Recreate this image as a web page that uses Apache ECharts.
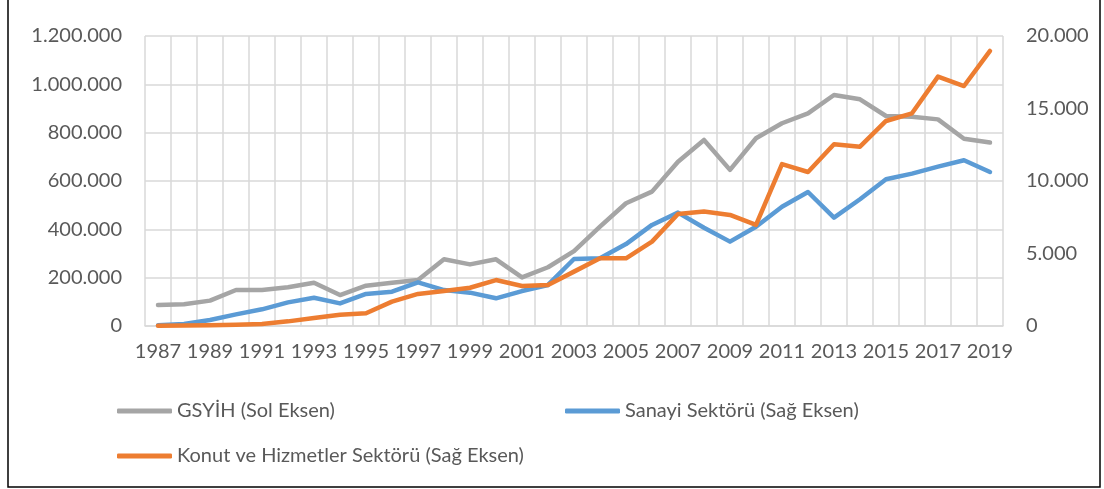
<!DOCTYPE html>
<html>
<head>
<meta charset="utf-8">
<script src="https://cdn.jsdelivr.net/npm/echarts@6/dist/echarts.min.js"></script>
<style>
html,body{margin:0;padding:0;background:#fff;}
#c{width:1104px;height:489px;}
</style>
</head>
<body>
<div id="c"></div>
<script>
const years = ['1987','1988','1989','1990','1991','1992','1993','1994','1995','1996','1997','1998','1999','2000','2001','2002','2003','2004','2005','2006','2007','2008','2009','2010','2011','2012','2013','2014','2015','2016','2017','2018','2019'];
const gsyih = [87000, 90000, 105000, 149000, 149000, 160000, 179000, 128000, 167000, 179000, 190000, 276000, 255000, 276000, 201000, 243000, 310000, 411000, 508000, 556000, 680000, 770000, 646000, 777000, 839000, 880000, 956000, 938000, 869000, 866000, 855000, 775000, 759000];
const sanayi = [50, 140, 410, 800, 1150, 1630, 1950, 1560, 2210, 2370, 3010, 2480, 2300, 1910, 2410, 2830, 4620, 4670, 5650, 6970, 7820, 6780, 5820, 6850, 8230, 9240, 7470, 8740, 10120, 10510, 10990, 11430, 10620];
const konut = [20, 30, 50, 80, 140, 320, 550, 780, 880, 1680, 2210, 2410, 2640, 3170, 2760, 2830, 3750, 4670, 4670, 5820, 7720, 7890, 7660, 6970, 11170, 10620, 12530, 12370, 14140, 14670, 17200, 16550, 18970];
const names = ['GSYİH (Sol Eksen)', 'Sanayi Sektörü (Sağ Eksen)', 'Konut ve Hizmetler Sektörü (Sağ Eksen)'];
const colors = ['#a5a5a5', '#5b9bd5', '#ed7d31'];

const fmt = v => String(v).replace(/\B(?=(\d{3})+(?!\d))/g, '.');
const FONT = 'Lato';
const TXT = '#595959';
const GRID = '#d9d9d9';
const FS = 20;

const chart = echarts.init(document.getElementById('c'), null, {renderer: 'canvas'});
const legendBase = {
  orient: 'horizontal',
  padding: 0,
  itemWidth: 55,
  itemHeight: 5,
  icon: 'roundRect',
  textStyle: {fontFamily: FONT, fontSize: FS, color: TXT}
};
chart.setOption({
  animation: false,
  backgroundColor: '#fff',
  textStyle: {fontFamily: FONT},
  grid: {left: 145, right: 101, top: 36, bottom: 163, containLabel: false},
  legend: [
    Object.assign({}, legendBase, {data: [names[0]], left: 117, top: 401}),
    Object.assign({}, legendBase, {data: [names[1]], left: 565, top: 401}),
    Object.assign({}, legendBase, {data: [names[2]], left: 117, top: 446})
  ],
  xAxis: {
    type: 'category',
    data: years,
    boundaryGap: true,
    axisLine: {show: true, lineStyle: {color: GRID, width: 1.5}},
    axisTick: {show: false},
    axisLabel: {interval: 1, color: TXT, fontFamily: FONT, fontSize: FS, margin: 16},
    splitLine: {show: true, interval: 0, lineStyle: {color: GRID, width: 1.5}}
  },
  yAxis: [
    {
      type: 'value', min: 0, max: 1200000, interval: 200000, position: 'left',
      axisLine: {show: false}, axisTick: {show: false},
      axisLabel: {color: TXT, fontFamily: FONT, fontSize: FS, margin: 23, formatter: fmt},
      splitLine: {show: true, lineStyle: {color: GRID, width: 1.5}}
    },
    {
      type: 'value', min: 0, max: 20000, interval: 5000, position: 'right',
      axisLine: {show: false}, axisTick: {show: false},
      axisLabel: {color: TXT, fontFamily: FONT, fontSize: FS, margin: 23, formatter: fmt},
      splitLine: {show: false}
    }
  ],
  series: [
    {name: names[0], type: 'line', yAxisIndex: 0, data: gsyih, symbol: 'none', color: colors[0],
     lineStyle: {width: 4.5, color: colors[0], cap: 'round', join: 'round'}},
    {name: names[1], type: 'line', yAxisIndex: 1, data: sanayi, symbol: 'none', color: colors[1],
     lineStyle: {width: 4.5, color: colors[1], cap: 'round', join: 'round'}},
    {name: names[2], type: 'line', yAxisIndex: 1, data: konut, symbol: 'none', color: colors[2],
     lineStyle: {width: 4.5, color: colors[2], cap: 'round', join: 'round'}}
  ],
  graphic: [{
    type: 'rect', silent: true, z: 100,
    shape: {x: 8, y: -10, width: 1092, height: 497},
    style: {fill: 'none', stroke: '#000', lineWidth: 1.5}
  }]
});
</script>
</body>
</html>
